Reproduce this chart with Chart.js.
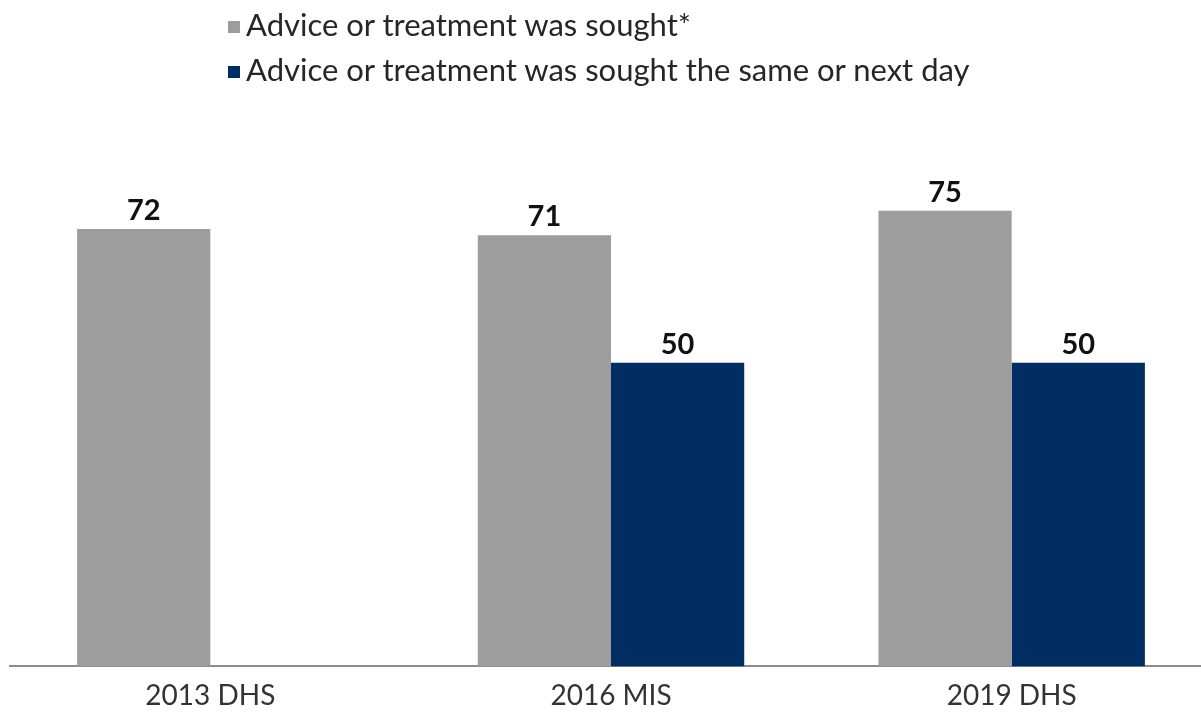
<!DOCTYPE html>
<html>
<head>
<meta charset="utf-8">
<script src="https://cdn.jsdelivr.net/npm/chart.js@4/dist/chart.umd.min.js"></script>
<style>
  html, body { margin: 0; padding: 0; background: #fff; overflow: hidden; }
  #wrap { position: relative; width: 1212px; height: 712px; overflow: hidden; }
  #leyenda { position: absolute; left: 228px; top: 3px; font-family: Lato, sans-serif; font-size: 31px; color: #262626; }
  #leyenda div { height: 45px; line-height: 42px; white-space: nowrap; }
  #leyenda span.caja { display: inline-block; width: 12px; height: 12px; margin-right: 6px; vertical-align: 3px; }
</style>
</head>
<body>
<div id="wrap">
  <canvas id="grafico" width="1212" height="730"></canvas>
  <div id="leyenda"></div>
</div>
<script>
// --- DATOS ---
const encuestas = ['2013 DHS', '2016 MIS', '2019 DHS'];
const consultaBuscada = [72, 71, 75];
const consultaMismoDia = [null, 50, 50];
const etiquetasSerie = [
  'Advice or treatment was sought*',
  'Advice or treatment was sought the same or next day'
];
const coloresSerie = ['#9d9d9d', '#002d62'];

// etiquetas de valor encima de cada barra
const valoresArriba = {
  id: 'valoresArriba',
  afterDatasetsDraw(chart) {
    const ctx = chart.ctx;
    ctx.save();
    ctx.font = 'bold 29px Lato, sans-serif';
    ctx.fillStyle = '#111';
    ctx.textAlign = 'center';
    ctx.textBaseline = 'alphabetic';
    chart.data.datasets.forEach((ds, i) => {
      chart.getDatasetMeta(i).data.forEach((barra, j) => {
        if (ds.data[j] == null) return;
        ctx.fillText(ds.data[j], barra.x, barra.y - 9);
      });
    });
    ctx.restore();
  }
};

const ctx = document.getElementById('grafico').getContext('2d');
const grafico = new Chart(ctx, {
  type: 'bar',
  data: {
    labels: encuestas,
    datasets: [
      { label: etiquetasSerie[0], data: consultaBuscada, backgroundColor: coloresSerie[0] },
      { label: etiquetasSerie[1], data: consultaMismoDia, backgroundColor: coloresSerie[1] }
    ]
  },
  options: {
    responsive: false,
    animation: false,
    layout: { padding: { top: 59, left: 10, right: 0, bottom: 4 } },
    datasets: { bar: { categoryPercentage: 0.665, barPercentage: 1 } },
    plugins: {
      legend: { display: false },
      tooltip: { enabled: false }
    },
    scales: {
      x: {
        grid: { display: false, drawTicks: false },
        border: { color: '#8c8c8c', width: 2 },
        ticks: { color: '#333', padding: 13, font: { family: 'Lato, sans-serif', size: 28 } }
      },
      y: {
        display: false,
        min: 0,
        max: 100
      }
    }
  },
  plugins: [valoresArriba]
});

// leyenda en HTML
const leyendaEl = document.getElementById('leyenda');
etiquetasSerie.forEach((txt, i) => {
  const fila = document.createElement('div');
  fila.innerHTML = `<span class="caja" style="background:${coloresSerie[i]}"></span>${txt}`;
  leyendaEl.appendChild(fila);
});
</script>
</body>
</html>
